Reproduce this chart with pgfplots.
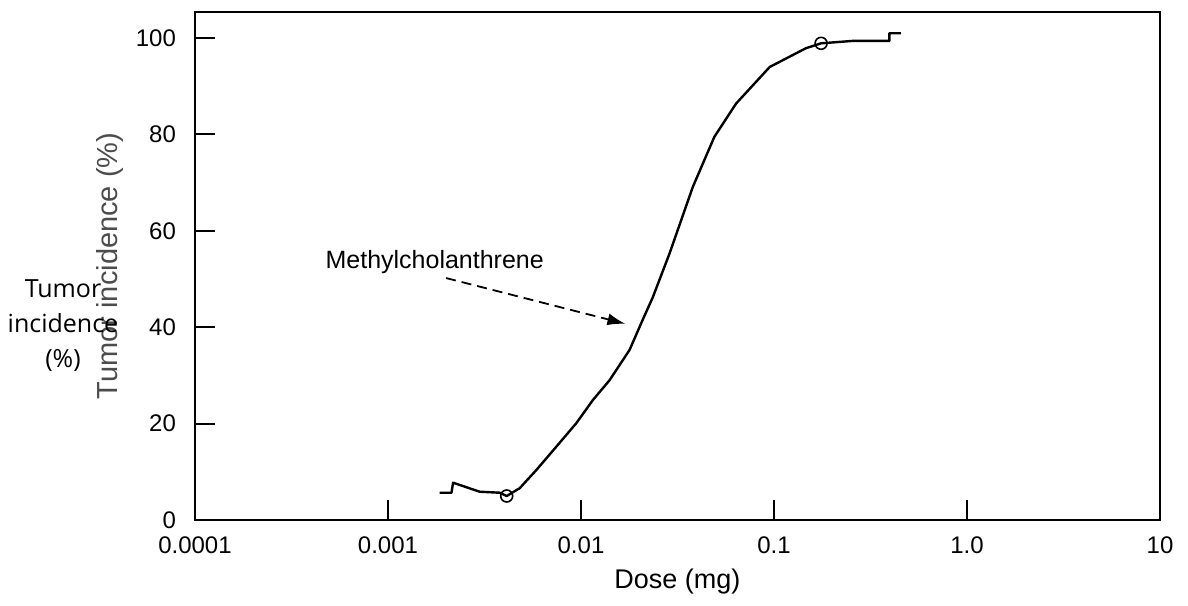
\documentclass[border=0pt]{standalone}
\usepackage{fontspec}
\setmainfont{Liberation Sans}
\newfontfamily\overlayfont{Open Sans}
\usepackage{pgfplots}
\pgfplotsset{compat=1.18}
\usetikzlibrary{arrows.meta}
\begin{document}
\begin{tikzpicture}
\begin{axis}[
    scale only axis, width=482.5pt, height=254pt,
    xmode=log, xmin=1e-4, xmax=10,
    ymin=0, ymax=105.4,
    xtick={0.0001,0.001,0.01,0.1,1,10},
    xticklabels={0.0001,0.001,0.01,0.1,1.0,10},
    ytick={0,20,40,60,80,100},
    xminorticks=false,
    xtick pos=bottom, ytick pos=left, tick align=inside,
    major tick length=10pt,
    tick style={black, line width=1pt},
    axis line style={line width=1.3pt},
    tick label style={font=\fontsize{12}{14}\selectfont},
    xticklabel style={yshift=-5pt},
    yticklabel style={xshift=-6pt},
    /pgf/number format/assume math mode=true,
    xlabel={Dose (mg)},
    xlabel style={font=\fontsize{13.5}{16}\selectfont, at={(axis description cs:0.5,-0.122)}, anchor=center},
    ylabel={Tumor incidence (\%)},
    ylabel style={font=\fontsize{14.5}{18}\selectfont, text=black!70, at={(axis description cs:-0.088,0.5)}, anchor=center},
    clip=false,
]
% dose-response curve, methylcholanthrene
\addplot[black, line width=1.2pt, line join=round] coordinates {
    (0.001854,5.66) (0.002133,5.66) (0.002174,7.74) (0.002985,5.87)
    (0.003790,5.66) (0.004121,4.98) (0.004808,6.58) (0.005871,10.37)
    (0.007447,15.2) (0.009462,20.1) (0.01153,24.9) (0.01406,29.0)
    (0.01786,35.3) (0.02091,41.6) (0.02355,46.2) (0.02876,55.3)
    (0.03797,69.1) (0.04909,79.5) (0.06362,86.4) (0.09506,94.0)
    (0.1467,97.9) (0.1754,98.9) (0.2554,99.4) (0.3963,99.4)
    (0.3963,101.0) (0.4549,101.0)
};
\addplot[only marks, mark=o, mark size=3pt, black, fill=white, line width=0.8pt] coordinates {
    (0.004121,4.98) (0.1754,98.9)
};
\node[font=\fontsize{12.5}{15}\selectfont] at (axis cs:0.001746,53.5) {Methylcholanthrene};
\draw[dash pattern=on 5pt off 3pt, line width=0.9pt, -{Latex[length=9pt,width=6pt]}] (axis cs:0.0020,50.2) -- (axis cs:0.0170,40.7);
\end{axis}
\node[font=\overlayfont\fontsize{12.5}{17.5}\selectfont, align=center] at ([shift={(-66pt,97pt)}]current axis.south west) {Tumor\\incidence\\(\%)};
\pgfresetboundingbox
\path ([shift={(-97.5pt,-42.5pt)}]current axis.south west) rectangle ([shift={(14pt,6pt)}]current axis.north east);
\end{tikzpicture}
\end{document}
